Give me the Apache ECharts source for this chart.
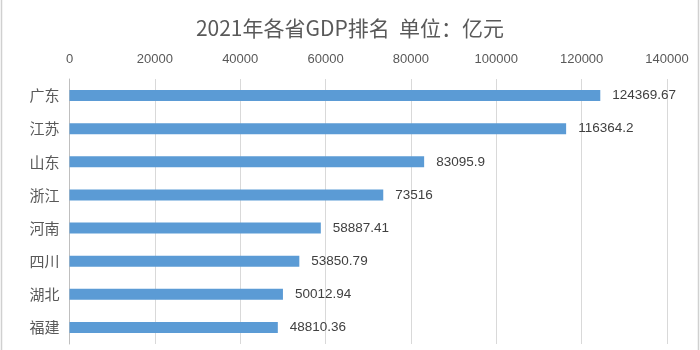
<!DOCTYPE html>
<html>
<head>
<meta charset="utf-8">
<script src="https://cdn.jsdelivr.net/npm/echarts@6/dist/echarts.min.js"></script>
<style>
html,body{margin:0;padding:0;background:#fff;}
#chart{width:700px;height:350px;}
</style>
</head>
<body>
<div id="chart"></div>
<script>
const titleText = '2021年各省GDP排名  单位：亿元';
const provinces = ['广东', '江苏', '山东', '浙江', '河南', '四川', '湖北', '福建'];
const gdpValues = [124369.67, 116364.2, 83095.9, 73516, 58887.41, 53850.79, 50012.94, 48810.36];
const gdpLabels = ['124369.67', '116364.2', '83095.9', '73516', '58887.41', '53850.79', '50012.94', '48810.36'];

const chart = echarts.init(document.getElementById('chart'), null, {renderer: 'canvas'});
chart.setOption({
  animation: false,
  backgroundColor: '#ffffff',
  title: {
    text: titleText,
    left: 'center',
    top: 13,
    textStyle: {
      fontFamily: 'Noto Sans CJK SC',
      fontSize: 21,
      fontWeight: 'normal',
      color: '#595959'
    }
  },
  graphic: [
    {type: 'line', shape: {x1: 1.5, y1: 0, x2: 1.5, y2: 350}, style: {stroke: '#D0D0D0', lineWidth: 1.5}},
    {type: 'line', shape: {x1: 698.5, y1: 0, x2: 698.5, y2: 350}, style: {stroke: '#D0D0D0', lineWidth: 1.5}}
  ],
  grid: {
    left: 69.5,
    right: 33,
    top: 79,
    height: 265,
    containLabel: false
  },
  xAxis: {
    type: 'value',
    position: 'top',
    min: 0,
    max: 140000,
    interval: 20000,
    axisLine: {show: false},
    axisTick: {show: false},
    axisLabel: {
      margin: 13,
      fontFamily: 'Liberation Sans',
      fontSize: 13,
      color: '#595959',
      formatter: function (v) { return String(v); }
    },
    splitLine: {lineStyle: {color: '#D9D9D9', width: 1}}
  },
  yAxis: {
    type: 'category',
    data: provinces,
    inverse: true,
    axisLine: {show: true, lineStyle: {color: '#BFBFBF', width: 1}},
    axisTick: {show: false},
    axisLabel: {
      margin: 10,
      fontFamily: 'Noto Sans CJK SC',
      fontSize: 15,
      color: '#595959'
    }
  },
  series: [{
    type: 'bar',
    data: gdpValues,
    barWidth: 11,
    itemStyle: {color: '#5B9BD5'},
    label: {
      show: true,
      position: 'right',
      distance: 12,
      fontFamily: 'Liberation Sans',
      fontSize: 13.5,
      color: '#404040',
      formatter: function (p) { return gdpLabels[p.dataIndex]; }
    }
  }]
});
</script>
</body>
</html>
